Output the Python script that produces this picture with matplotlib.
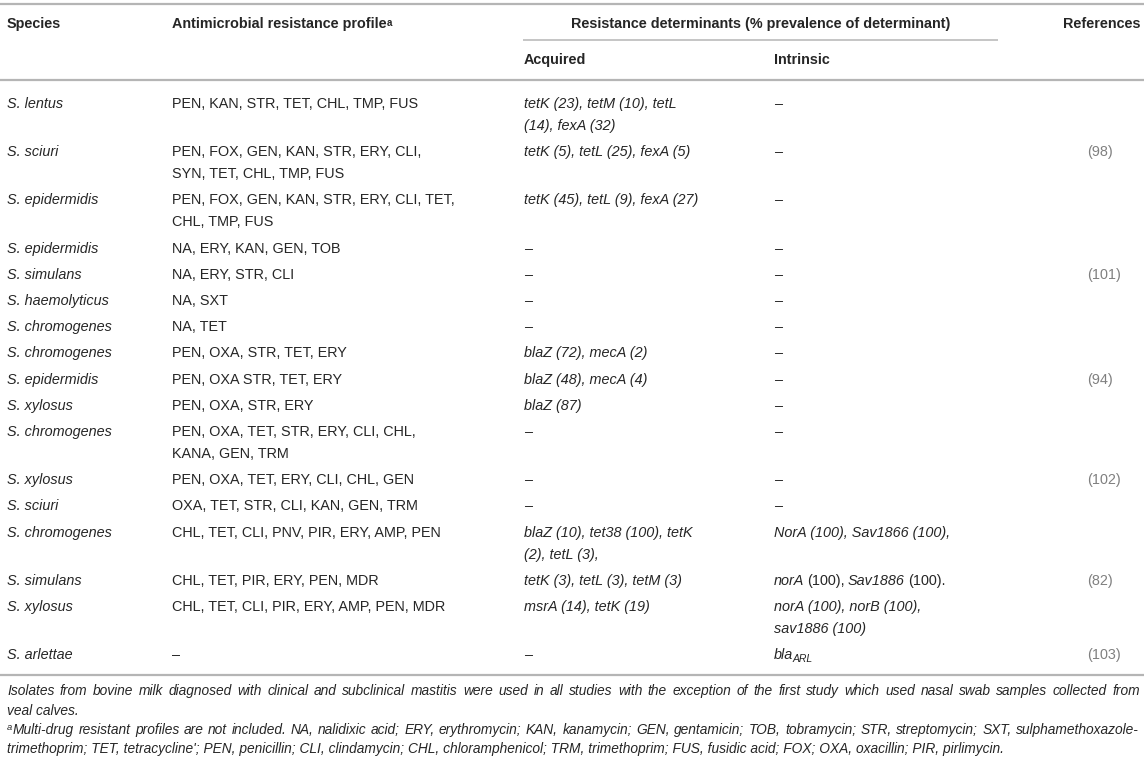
import matplotlib.pyplot as plt

W, H = 1144, 762

# table content
species = ["S. lentus", "S. sciuri", "S. epidermidis", "S. epidermidis", "S. simulans",
           "S. haemolyticus", "S. chromogenes", "S. chromogenes", "S. epidermidis", "S. xylosus",
           "S. chromogenes", "S. xylosus", "S. sciuri", "S. chromogenes", "S. simulans",
           "S. xylosus", "S. arlettae"]
profiles = ["PEN, KAN, STR, TET, CHL, TMP, FUS",
            "PEN, FOX, GEN, KAN, STR, ERY, CLI,\nSYN, TET, CHL, TMP, FUS",
            "PEN, FOX, GEN, KAN, STR, ERY, CLI, TET,\nCHL, TMP, FUS",
            "NA, ERY, KAN, GEN, TOB",
            "NA, ERY, STR, CLI",
            "NA, SXT",
            "NA, TET",
            "PEN, OXA, STR, TET, ERY",
            "PEN, OXA STR, TET, ERY",
            "PEN, OXA, STR, ERY",
            "PEN, OXA, TET, STR, ERY, CLI, CHL,\nKANA, GEN, TRM",
            "PEN, OXA, TET, ERY, CLI, CHL, GEN",
            "OXA, TET, STR, CLI, KAN, GEN, TRM",
            "CHL, TET, CLI, PNV, PIR, ERY, AMP, PEN",
            "CHL, TET, PIR, ERY, PEN, MDR",
            "CHL, TET, CLI, PIR, ERY, AMP, PEN, MDR",
            "–"]
# [..] marks upright parts, _ marks a subscript
acquired = ["tetK (23), tetM (10), tetL\n(14), fexA (32)",
            "tetK (5), tetL (25), fexA (5)",
            "tetK (45), tetL (9), fexA (27)",
            "–", "–", "–", "–",
            "blaZ (72), mecA (2)",
            "blaZ (48), mecA (4)",
            "blaZ (87)",
            "–", "–", "–",
            "blaZ (10), tet38 (100), tetK\n(2), tetL (3),",
            "tetK (3), tetL (3), tetM (3)",
            "msrA (14), tetK (19)",
            "–"]
intrinsic = ["–", "–", "–", "–", "–", "–", "–", "–", "–", "–", "–", "–", "–",
             "NorA (100), Sav1866 (100),",
             "norA[ (100), ]Sav1886[ (100).]",
             "norA (100), norB (100),\nsav1886 (100)",
             "bla_ARL"]
references = ["", "(98)", "", "", "(101)", "", "", "", "(94)", "", "", "(102)", "", "",
              "(82)", "", "(103)"]

headers = ["Species", "Antimicrobial resistance profile",
           "Resistance determinants (% prevalence of determinant)", "References"]
sub_headers = ["Acquired", "Intrinsic"]
footnotes = [
    "Isolates from bovine milk diagnosed with clinical and subclinical mastitis were used in all studies with the exception of the first study which used nasal swab samples collected from",
    "veal calves.",
    "Multi-drug resistant profiles are not included. NA, nalidixic acid; ERY, erythromycin; KAN, kanamycin; GEN, gentamicin; TOB, tobramycin; STR, streptomycin; SXT, sulphamethoxazole-",
    "trimethoprim; TET, tetracycline'; PEN, penicillin; CLI, clindamycin; CHL, chloramphenicol; TRM, trimethoprim; FUS, fusidic acid; FOX; OXA, oxacillin; PIR, pirlimycin.",
]

plt.rcParams['font.family'] = ['Liberation Sans', 'DejaVu Sans']

TXT = '#262626'
RULE = '#b5b5b5'
REF = '#808080'
FS = 10.4
col_x = [7, 172, 524, 774, 1087]
row_pitch = 26.2
line_gap = 22
y_first = 104

fig = plt.figure(figsize=(11.44, 7.62), dpi=100)
ax = fig.add_axes([0, 0, 1, 1])
ax.set_xlim(0, W)
ax.set_ylim(H, 0)
ax.axis('off')
renderer = fig.canvas.get_renderer()


def rich(x, y, s, italic=True, color=TXT, fs=FS):
    # draw a string whose [..] parts flip the style, chaining pieces left to right
    parts = s.replace(']', '[').split('[')
    prev = None
    gap_next = 0
    for k, raw in enumerate(parts):
        if raw == '':
            continue
        style = 'italic' if (k % 2 == 0) == italic else 'normal'
        lead = gap_next + (3 if raw.startswith(' ') else 0)
        gap_next = 3 if raw.endswith(' ') else 0
        part = raw.strip()
        sub = None
        if '_' in part:
            part, sub = part.split('_')
        if prev is None:
            prev = ax.text(x, y, part, fontsize=fs, style=style, color=color,
                           ha='left', va='center')
        else:
            prev = ax.annotate(part, xy=(1, 0.5), xycoords=prev, xytext=(lead, 0),
                               textcoords='offset pixels', fontsize=fs, style=style,
                               color=color, ha='left', va='center')
        if sub:
            prev = ax.annotate(sub, xy=(1, 0.2), xycoords=prev, xytext=(-0.5, 0),
                               textcoords='offset pixels', fontsize=fs * 0.72,
                               style=style, color=color, ha='left', va='center')
    return prev


def justified(x0, x1, y, line, fs):
    # spread the words of one line so it runs from x0 to x1
    words = line.split(' ')
    arts = [ax.text(0, y, w, fontsize=fs, style='italic', color=TXT, va='center')
            for w in words]
    widths = [a.get_window_extent(renderer).width for a in arts]
    gap = (x1 - x0 - sum(widths)) / (len(words) - 1)
    xpos = x0
    for a, w in zip(arts, widths):
        a.set_x(xpos)
        xpos += w + gap


# rules
ax.hlines(4, 0, W, color=RULE, lw=1.6)
ax.hlines(40, 523, 998, color=RULE, lw=1.1)
ax.hlines(80, 0, W, color=RULE, lw=1.6)

# header
hy1, hy2 = 24, 60
ax.text(col_x[0], hy1, headers[0], fontsize=FS, weight='bold', color=TXT, va='center')
h = ax.text(col_x[1], hy1, headers[1], fontsize=FS, weight='bold', color=TXT, va='center')
ax.annotate('a', xy=(1, 0.95), xycoords=h, xytext=(0.5, 0), textcoords='offset pixels',
            fontsize=FS * 0.68, weight='bold', color=TXT, va='top', ha='left')
ax.text((523 + 998) / 2, hy1, headers[2], fontsize=FS, weight='bold', color=TXT,
        va='center', ha='center')
ax.text(W - 3, hy1, headers[3], fontsize=FS, weight='bold', color=TXT, va='center', ha='right')
ax.text(col_x[2], hy2, sub_headers[0], fontsize=FS, weight='bold', color=TXT, va='center')
ax.text(col_x[3], hy2, sub_headers[1], fontsize=FS, weight='bold', color=TXT, va='center')

# body
y = y_first
for i in range(len(species)):
    ax.text(col_x[0], y, species[i], fontsize=FS, style='italic', color=TXT, va='center')
    for j, line in enumerate(profiles[i].split('\n')):
        ax.text(col_x[1], y + j * line_gap, line, fontsize=FS, color=TXT, va='center')
    for j, line in enumerate(acquired[i].split('\n')):
        rich(col_x[2], y + j * line_gap, line)
    for j, line in enumerate(intrinsic[i].split('\n')):
        rich(col_x[3], y + j * line_gap, line)
    if references[i]:
        ax.text(col_x[4], y, references[i], fontsize=FS, color=REF, va='center')
    n = max(c.count('\n') for c in (profiles[i], acquired[i], intrinsic[i])) + 1
    last_y = y + (n - 1) * line_gap
    y = last_y + row_pitch

ax.hlines(last_y + 20, 0, W, color=RULE, lw=1.6)

# footnotes
FN = 9.9
fy = [691, 711, 730, 749]
justified(col_x[0], 1140, fy[0], footnotes[0], FN)
ax.text(col_x[0], fy[1], footnotes[1], fontsize=FN, style='italic', color=TXT, va='center')
ax.text(col_x[0], fy[2] - 3, 'a', fontsize=FN * 0.68, style='italic', color=TXT, va='center')
justified(col_x[0] + 6, 1139, fy[2], footnotes[2], FN)
ax.text(col_x[0], fy[3], footnotes[3], fontsize=FN, style='italic', color=TXT, va='center')

fig.savefig('out.png', dpi=100)
